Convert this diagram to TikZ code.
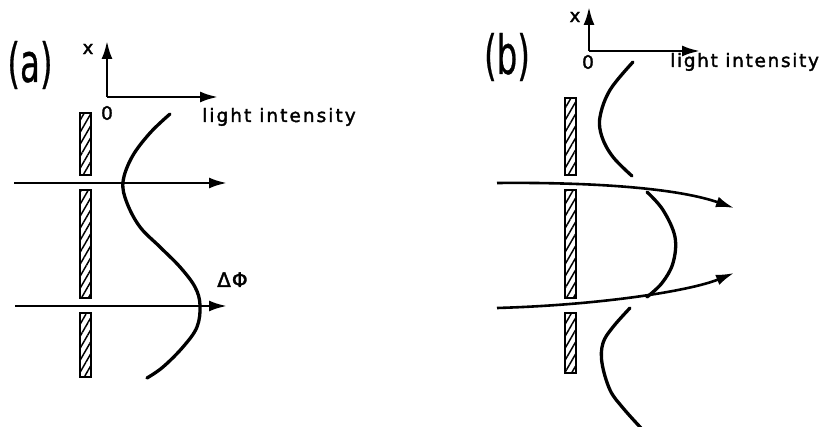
\documentclass[tikz,border=0pt]{standalone}
\usepackage{fontspec}
\newfontfamily\lab[FakeBold=1.8]{DejaVu Sans}
\newfontfamily\labthin[FakeBold=0.6]{DejaVu Sans}
\usetikzlibrary{arrows.meta,patterns.meta}
\begin{document}
\begin{tikzpicture}[x=1pt,y=-1pt,
  ray/.style={line width=2.6pt,-{Latex[length=18pt,width=11pt]}},
  axisline/.style={line width=2.6pt,-{Latex[length=18pt,width=11pt]}},
  wave/.style={line width=3.3pt,line cap=round},
  slit/.style={draw,line width=2pt,pattern={Lines[angle=60,distance=6pt,line width=1.5pt]}},
  txt/.style={inner sep=0pt,font=\lab\fontsize{18.5}{20}\selectfont},
  panel/.style={inner sep=0pt,font=\labthin\fontsize{54}{60}\selectfont}]
\useasboundingbox (0,0) rectangle (831,427);

% ---------- panel (a) ----------
\node[panel] (pa) at (30,65) {\scalebox{0.6}[1]{(a)}};
\coordinate (oa) at (107,97);
\coordinate (xa) at (107,41);
\coordinate (ia) at (218,97);
\draw[axisline] (oa) -- (xa);
\draw[axisline] (oa) -- (ia);
\node[txt] (xla) at (88,49) {x};
\node[txt] (za) at (107,113) {0};
\node[txt,anchor=base west] (lia) at (202,122) {\addfontfeature{LetterSpace=11}light intensity};

\draw[slit] (80,113) rectangle (91,175);
\draw[slit] (80,190) rectangle (91,298);
\draw[slit] (80,313) rectangle (91,377);

\coordinate (a1s) at (14,183);
\coordinate (a1e) at (227,183);
\coordinate (a2s) at (15,306);
\coordinate (a2e) at (227,306);
\draw[ray] (a1s) -- (a1e);
\draw[ray] (a2s) -- (a2e);

\draw[wave] plot[smooth,tension=0.6] coordinates {(170,114) (150,133) (132,157) (123,182) (127,203) (140,227) (160,247) (180,267) (195,287) (200,305) (197,327) (183,347) (163,367) (147,378)};

\node[txt,anchor=base west,font=\lab\fontsize{20}{22}\selectfont] (dphi) at (217,287) {Δ\kern1ptΦ};

% ---------- panel (b) ----------
\node[panel] (pb) at (507,57) {\scalebox{0.6}[1]{(b)}};
\coordinate (ob) at (589,51);
\coordinate (xb) at (589,7);
\coordinate (ib) at (700,51);
\draw[axisline] (ob) -- (xb);
\draw[axisline] (ob) -- (ib);
\node[txt] (xlb) at (575,17) {x};
\node[txt] (zb) at (588,62) {0};
\node[txt,anchor=base west] (lib) at (670,67) {\addfontfeature{LetterSpace=9}light intensity};

\draw[slit] (565,98) rectangle (576,175);
\draw[slit] (565,190) rectangle (576,298);
\draw[slit] (565,313) rectangle (576,373);

\coordinate (b1s) at (497,183);
\coordinate (b1e) at (734,208);
\coordinate (b2s) at (497,308);
\coordinate (b2e) at (734,273);
\draw[ray] (b1s) .. controls (600,182) and (680,189) .. (b1e);
\draw[ray] (b2s) .. controls (600,305) and (690,291) .. (b2e);

\draw[wave] plot[smooth,tension=0.6] coordinates {(633,62) (610,90) (600,117) (602,137) (613,157) (632,176)};
\draw[wave] plot[smooth,tension=0.6] coordinates {(647,192) (663,210) (675,237) (673,263) (662,283) (647,297)};
\draw[wave] plot[smooth,tension=0.6] coordinates {(630,308) (613,327) (603,343) (602,363) (610,390) (623,408) (641,428)};
\end{tikzpicture}
\end{document}
